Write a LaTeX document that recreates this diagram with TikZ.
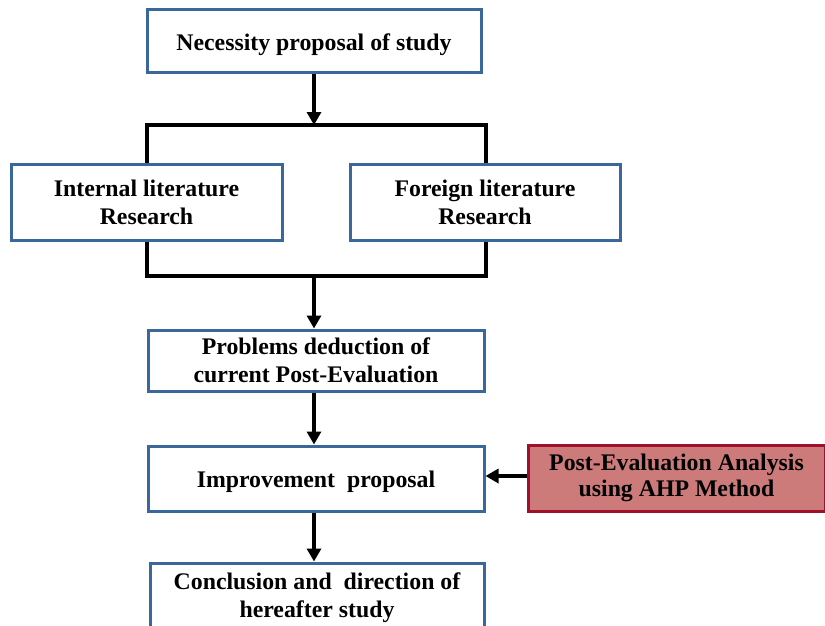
\documentclass[tikz,border=0pt]{standalone}
\usepackage{fontspec}
\setmainfont{Liberation Serif}
\usetikzlibrary{arrows.meta}
\definecolor{boxblue}{RGB}{58,104,154}
\definecolor{redfill}{RGB}{205,122,122}
\definecolor{redline}{RGB}{160,16,42}
\tikzset{
  bluebox/.style={draw=boxblue, line width=3pt, fill=white, align=center,
    font=\fontsize{23.8}{28}\selectfont\bfseries, inner sep=0pt,
    execute at begin node={\rule{0pt}{22.5pt}}},
  redbox/.style={draw=redline, line width=3pt, fill=redfill, align=center,
    font=\fontsize{23.8}{26}\selectfont\bfseries, inner sep=0pt},
  conn/.style={line width=4pt, black},
  arr/.style={conn, -{Triangle[length=13pt,width=14pt]}}
}
\begin{document}
\begin{tikzpicture}[x=1pt,y=-1pt]
\useasboundingbox (0,0) rectangle (825,626);
\begin{scope}
\clip (0,0) rectangle (825,626);
\node[bluebox, minimum width=334pt, minimum height=63pt] (nec) at (314,41.5) {Necessity proposal of study};
\node[bluebox, minimum width=271pt, minimum height=76pt] (int) at (146.5,202) {Internal literature\\Research};
\node[bluebox, minimum width=270pt, minimum height=76pt] (for) at (485,202) {Foreign literature\\Research};
\node[bluebox, minimum width=336pt, minimum height=61pt] (prob) at (316,360.5) {Problems deduction of\\current Post-Evaluation};
\node[bluebox, minimum width=336pt, minimum height=65pt] (imp) at (316,478.5) {Improvement\ \ proposal};
\node[bluebox, minimum width=334pt, minimum height=70pt] (con) at (317,598) {Conclusion and\ \ direction of\\hereafter study};
\node[redbox, minimum width=297pt, minimum height=66pt] (ahp) at (676.5,478) {Post-Evaluation Analysis\\using AHP Method};
\coordinate (tl) at (147,125);
\coordinate (tr) at (486,125);
\coordinate (tm) at (314,125);
\coordinate (bl) at (147,276);
\coordinate (br) at (486,276);
\coordinate (bm) at (314,276);
\coordinate (ay) at (0,476);
\draw[arr] (nec.south -| tm) -- (tm);
\draw[conn] (int.north -| tl) -- (tl) -- (tr) -- (for.north -| tr);
\draw[conn] (int.south -| bl) -- (bl) -- (br) -- (for.south -| br);
\draw[arr] (bm) -- (prob.north -| bm);
\draw[arr] (prob.south -| tm) -- (imp.north -| tm);
\draw[arr] (imp.south -| tm) -- (con.north -| tm);
\draw[arr] (ahp.west |- ay) -- (imp.east |- ay);
\end{scope}
\end{tikzpicture}
\end{document}
